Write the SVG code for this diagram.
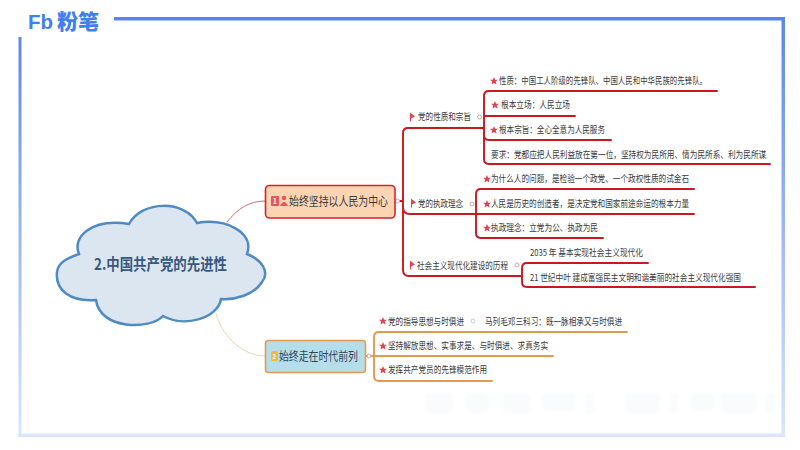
<svg xmlns="http://www.w3.org/2000/svg" width="800" height="450" viewBox="0 0 800 450">
<style>
text{font-family:"Noto Sans CJK SC","Liberation Sans",sans-serif;fill:#3a3a3a}
.t{font-size:9.6px}
.c{fill:none;stroke-linecap:round}
.r{stroke:#cc1620;stroke-width:1.9}
.o{stroke:#e39a4e;stroke-width:1.9}
.s{fill:#e04452}
.dot{fill:#fff;stroke:#d9a0a4;stroke-width:1}
.w{fill:#fafbfd}
</style>
<defs>
<linearGradient id="fl" x1="0" y1="0" x2="0" y2="1"><stop offset="0" stop-color="#5f86ea"/><stop offset="1" stop-color="#dbe5fd"/></linearGradient>
<filter id="bl" x="-10%" y="-30%" width="120%" height="160%"><feGaussianBlur stdDeviation="1.5"/></filter>
<path id="star" d="M0,-4 L1.100,-1.300 4,-1.200 1.800,.6 2.500,3.400 0,1.900 -2.500,3.400 -1.800,.6 -4,-1.200 -1.100,-1.300Z"/>
<path id="flag" d="M-2,-4.500 L3,-.5 -1,1.500 V4.500 H-2Z"/>
</defs>
<rect width="800" height="450" fill="#fff"/>
<g id="watermark" filter="url(#bl)">
<rect class="w" x="426" y="393" width="27" height="20" rx="4"/><rect class="w" x="465" y="393" width="25" height="20" rx="8"/><rect class="w" x="503" y="393" width="27" height="20" rx="4"/><rect class="w" x="542" y="393" width="33" height="18" rx="4"/><rect class="w" x="585" y="393" width="9" height="20"/><rect class="w" x="626" y="393" width="34" height="20" rx="4"/><rect class="w" x="670" y="393" width="7" height="20"/><rect class="w" x="691" y="393" width="24" height="18" rx="6"/><rect class="w" x="722" y="393" width="35" height="20" rx="4"/><rect class="w" x="765" y="393" width="9" height="20"/>
</g>
<g id="frame">
<rect x="114" y="17" width="671" height="3.500" fill="#5b83ea"/>
<rect x="18.500" y="37" width="3" height="400" fill="url(#fl)"/>
<rect x="781.500" y="20" width="3.500" height="417" fill="url(#fl)"/>
<rect x="18.500" y="433.500" width="766.500" height="3.500" fill="#dbe5fd"/>
</g>
<g id="logo">
<text x="28" y="29" font-size="21" font-weight="700" textLength="25" lengthAdjust="spacingAndGlyphs" style="font-family:'Liberation Sans',sans-serif;fill:#3f7ff0">Fb</text>
<text x="57" y="29" font-size="21" font-weight="900" textLength="42" lengthAdjust="spacingAndGlyphs" style="fill:#3f7ff0">粉笔</text>
</g>
<g id="connectors">
<path class="c" stroke="#c9707a" stroke-width="1" d="M227,222C238,208 250,201 265,201"/>
<path class="c" stroke="#ecd5ae" stroke-width="1" d="M216,314C224,340 245,356 265,356"/>
<path class="c r" d="M395,201H403M403,133Q403,128 408,128H484M403,133V270Q403,276 409,276H521M403,207Q403,214 410,214H476"/>
<path class="c r" d="M484,128V159Q484,164 489,164H770M484,96Q484,91 489,91H717M484,116H575M484,135Q484,140 489,140H611M484,96V128"/>
<path class="c r" d="M476,194Q476,189 481,189H694M476,214H694M476,233Q476,238 481,238H603M476,194V233"/>
<path class="c r" d="M522,268Q522,263 527,263H648M522,268V282Q522,287 527,287H755"/>
<path class="c o" d="M366,356H374M374,337Q374,332 379,332H627M374,337V376Q374,381 379,381H492M374,356H553"/>
</g>
<g id="dots">
<circle class="dot" cx="397.500" cy="201" r="2"/><circle class="dot" cx="479.500" cy="117" r="2"/><circle class="dot" cx="472" cy="204" r="2"/><circle class="dot" cx="517" cy="265" r="2"/><circle class="dot" cx="369" cy="356" r="2"/><circle class="dot" cx="473" cy="321" r="2" style="stroke:#ccc"/>
</g>
<g id="root">
<path d="M129,224C142,200 185,200 197,223C225,218 255,232 247,254C262,260 270,272 262,282C254,295 235,300 221,299C218,318 185,328 163,316C150,330 100,330 96,300C70,302 55,290 57,272C58,262 68,258 79,254C72,238 90,218 129,224Z" fill="#dbe6f1" stroke="#4f8ac4" stroke-width="2.500"/>
<text x="94" y="270" font-size="15.500" font-weight="700" textLength="133" lengthAdjust="spacingAndGlyphs" style="fill:#37587e">2.中国共产党的先进性</text>
</g>
<g id="n1">
<rect x="265.500" y="185.500" width="129.500" height="32.500" rx="4" fill="#fbd5b3" stroke="#d4242a" stroke-width="1.600"/>
<rect x="271" y="196" width="8" height="10" rx="1" fill="#e8545a"/>
<text x="272.800" y="204" font-size="7" font-weight="700" style="fill:#fff">1</text>
<circle cx="284" cy="198" r="2.300" fill="#e8545a"/><path d="M280,206Q284,198 288,206Z" fill="#e8545a"/>
<text x="289" y="206" font-size="12.500" textLength="99" lengthAdjust="spacingAndGlyphs">始终坚持以人民为中心</text>
</g>
<g id="n2">
<rect x="265.500" y="340.500" width="100" height="32" rx="3" fill="#b5deeb" stroke="#e39a4e" stroke-width="1.600"/>
<rect x="271" y="351" width="7" height="10" rx="1.500" fill="#f0bb2c"/>
<text x="272.500" y="359" font-size="6" font-weight="700" style="fill:#fff">2</text>
<text x="279" y="361" font-size="12.500" textLength="79" lengthAdjust="spacingAndGlyphs" style="fill:#345">始终走在时代前列</text>
</g>
<g id="a1"><use href="#flag" class="s" x="412" y="117"/><text class="t" lengthAdjust="spacingAndGlyphs" x="418" y="120" textLength="53">党的性质和宗旨</text></g>
<g id="a2"><use href="#flag" class="s" x="413" y="203"/><text class="t" lengthAdjust="spacingAndGlyphs" x="418" y="207" textLength="45">党的执政理念</text></g>
<g id="a3"><use href="#flag" class="s" x="412" y="265"/><text class="t" lengthAdjust="spacingAndGlyphs" x="417" y="269" textLength="91">社会主义现代化建设的历程</text></g>
<g id="a1a"><use href="#star" class="s" x="494" y="81"/><text class="t" lengthAdjust="spacingAndGlyphs" x="499" y="84" textLength="208">性质：中国工人阶级的先锋队、中国人民和中华民族的先锋队。</text></g>
<g id="a1b"><use href="#star" class="s" x="495" y="105"/><text class="t" lengthAdjust="spacingAndGlyphs" x="501" y="108" textLength="69">根本立场：人民立场</text></g>
<g id="a1c"><use href="#star" class="s" x="494" y="130"/><text class="t" lengthAdjust="spacingAndGlyphs" x="499" y="133" textLength="106">根本宗旨：全心全意为人民服务</text></g>
<g id="a1d"><text class="t" transform="translate(491,158) scale(.797,1)">要求：党都应把人民利益放在第一位，坚持权为民所用、情为民所系、利为民所谋</text></g>
<g id="a2a"><use href="#star" class="s" x="487" y="179"/><text class="t" lengthAdjust="spacingAndGlyphs" x="491" y="182" textLength="198">为什么人的问题，是检验一个政党、一个政权性质的试金石</text></g>
<g id="a2b"><use href="#star" class="s" x="487" y="204"/><text class="t" lengthAdjust="spacingAndGlyphs" x="491" y="207" textLength="198">人民是历史的创造者，是决定党和国家前途命运的根本力量</text></g>
<g id="a2c"><use href="#star" class="s" x="487" y="228"/><text class="t" lengthAdjust="spacingAndGlyphs" x="491" y="231" textLength="107">执政理念：立党为公、执政为民</text></g>
<g id="a3a"><text class="t" lengthAdjust="spacingAndGlyphs" x="530" y="256" textLength="113">2035 年 基本实现社会主义现代化</text></g>
<g id="a3b"><text class="t" lengthAdjust="spacingAndGlyphs" x="530" y="281" textLength="211">21 世纪中叶 建成富强民主文明和谐美丽的社会主义现代化强国</text></g>
<g id="b1"><use href="#star" class="s" x="383" y="321"/><text class="t" lengthAdjust="spacingAndGlyphs" x="388" y="325" textLength="76">党的指导思想与时俱进</text><text class="t" lengthAdjust="spacingAndGlyphs" x="485" y="325" textLength="137">马列毛邓三科习：既一脉相承又与时俱进</text></g>
<g id="b2"><use href="#star" class="s" x="383" y="346"/><text class="t" lengthAdjust="spacingAndGlyphs" x="388" y="349" textLength="160">坚持解放思想、实事求是、与时俱进、求真务实</text></g>
<g id="b3"><use href="#star" class="s" x="383" y="370"/><text class="t" lengthAdjust="spacingAndGlyphs" x="388" y="373" textLength="99">发挥共产党员的先锋模范作用</text></g>
</svg>
